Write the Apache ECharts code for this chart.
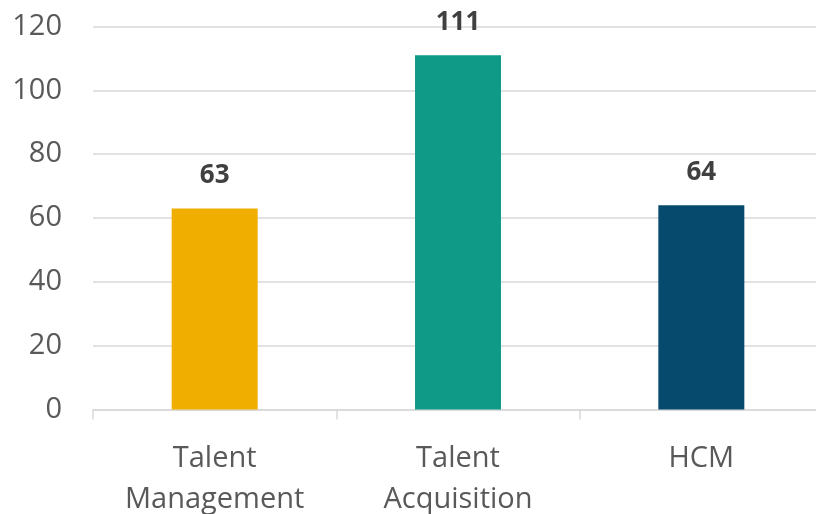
<!DOCTYPE html>
<html><head><meta charset="utf-8">
<script src="https://cdn.jsdelivr.net/npm/echarts@6/dist/echarts.min.js"></script>
<style>html,body{margin:0;padding:0;background:#fff}#c{width:816px;height:514px}</style>
</head><body><div id="c"></div>
<script>
const categories = ['Talent\nManagement', 'Talent\nAcquisition', 'HCM'];
const values = [63, 111, 64];
const barColors = ['#F0AE00', '#0F9A87', '#064A6E'];
const yTicks = [0, 20, 40, 60, 80, 100, 120];

const chart = echarts.init(document.getElementById('c'), null, {renderer: 'canvas'});
chart.setOption({
  animation: false,
  grid: {left: 93, width: 730, top: 26.5, bottom: 104.5, containLabel: false, outerBoundsMode: 'none', show: false},
  xAxis: {
    type: 'category', data: categories,
    axisLine: {show: true, lineStyle: {color: '#d9d9d9', width: 1.5}},
    axisTick: {show: true, length: 10, lineStyle: {color: '#d9d9d9', width: 1.5}},
    splitLine: {show: false},
    axisLabel: {color: '#595959', fontSize: 29, fontFamily: 'Open Sans', lineHeight: 41, margin: 29}
  },
  yAxis: {
    type: 'value', min: yTicks[0], max: yTicks[yTicks.length - 1], interval: 20,
    axisLine: {show: false}, axisTick: {show: false},
    splitLine: {lineStyle: {color: '#d9d9d9', width: 1.5}},
    axisLabel: {color: '#595959', fontSize: 29, fontFamily: 'Open Sans', margin: 31}
  },
  series: [{
    type: 'bar', barWidth: 86,
    data: values.map((v, i) => ({value: v, itemStyle: {color: barColors[i]}})),
    label: {show: true, position: 'top', distance: 20, color: '#404040', fontSize: 26, fontWeight: 'bold', fontFamily: 'Open Sans'}
  }]
});
</script></body></html>
